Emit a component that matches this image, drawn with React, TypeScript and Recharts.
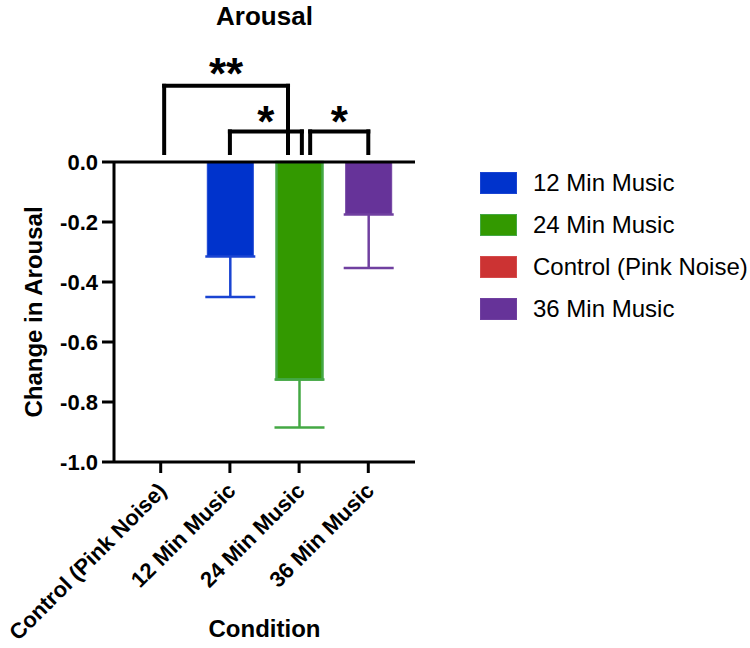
import { BarChart, Bar, Cell, XAxis, YAxis, ErrorBar, ReferenceLine, ReferenceDot, Legend } from 'recharts'

const categories = ['Control (Pink Noise)', '12 Min Music', '24 Min Music', '36 Min Music']
const means = [0, -0.315, -0.725, -0.175]
const errors = [0, 0.135, 0.16, 0.178]
const colors = ['#cc3333', '#0033cc', '#339900', '#663399']
const edges = ['#d44a4a', '#1a44d2', '#44a844', '#7040a0']
const legendOrder = [1, 2, 0, 3]
const yTicks = [0, -0.2, -0.4, -0.6, -0.8, -1.0]

// significance brackets, in category-index / value units
const bracketLeft = [0.05, 1.0, 2.16]
const bracketRight = [1.84, 2.04, 3.0]
const bracketTop = [0.254, 0.102, 0.102]
const bracketFoot = 0.03
const starLabels = ['**', '*', '*']
const starY = [0.325, 0.164, 0.164]

const FONT = '"Liberation Sans", Arial, sans-serif'

const data = categories.map((name, i) => ({ pos: i, name, mean: means[i], err: errors[i] }))

function XTick({ x = 0, y = 0, payload }: any) {
  const ax = x + 7
  const ay = y + 17
  return (
    <text x={ax} y={ay} textAnchor="end" transform={`rotate(-45 ${ax} ${ay})`} fontSize={22} fontWeight={700} fill="#000" fontFamily={FONT}>
      {categories[payload.value]}
    </text>
  )
}

function Star({ cx = 0, cy = 0, text }: any) {
  return (
    <text x={cx} y={cy} dy="0.55em" textAnchor="middle" fontSize={44} fontWeight={700} fill="#000" fontFamily={FONT}>{text}</text>
  )
}

function LegendBox() {
  return (
    <div style={{ fontFamily: FONT }}>
      {legendOrder.map((i) => (
        <div key={i} style={{ display: 'flex', alignItems: 'center', height: 42 }}>
          <span style={{ display: 'inline-block', width: 35, height: 20, background: colors[i], border: `1px solid ${edges[i]}`, marginRight: 16 }} />
          <span style={{ fontSize: 24, color: '#000', whiteSpace: 'nowrap' }}>{categories[i]}</span>
        </div>
      ))}
    </div>
  )
}

export default function App() {
  return (
    <div style={{ position: 'absolute', left: 0, top: 0 }}>
      <BarChart width={750} height={648} data={data} margin={{ top: 162, right: 335, bottom: 0, left: 14 }} style={{ fontFamily: FONT }}>
        <text x={264.5} y={25} textAnchor="middle" fontSize={26} fontWeight={700} fill="#000" fontFamily={FONT}>Arousal</text>
        <text transform="translate(42 312) rotate(-90)" textAnchor="middle" fontSize={24} fontWeight={700} fill="#000" fontFamily={FONT}>Change in Arousal</text>
        <text x={264.5} y={637} textAnchor="middle" fontSize={24} fontWeight={700} fill="#000" fontFamily={FONT}>Condition</text>
        <XAxis
          type="number"
          dataKey="pos"
          domain={[-0.675, 3.675]}
          ticks={[0, 1, 2, 3]}
          height={186}
          tick={<XTick />}
          tickSize={11}
          tickMargin={2}
          axisLine={{ stroke: '#000', strokeWidth: 3 }}
          tickLine={{ stroke: '#000', strokeWidth: 3 }}
          interval={0}
        />
        <YAxis
          domain={[-1, 0]}
          ticks={yTicks}
          width={100}
          tickFormatter={(v: number) => v.toFixed(1)}
          tick={{ fontSize: 22, fontWeight: 700, fill: '#000', fontFamily: FONT }}
          tickSize={12}
          tickMargin={4}
          axisLine={{ stroke: '#000', strokeWidth: 3 }}
          tickLine={{ stroke: '#000', strokeWidth: 3 }}
          interval={0}
        />
        <Bar dataKey="mean" barSize={46} isAnimationActive={false}>
          {data.map((d, i) => (
            <Cell key={d.name} fill={colors[i]} stroke={edges[i]} strokeWidth={i === 2 ? 2.5 : 1} />
          ))}
          {categories.map((c, i) =>
            errors[i] > 0 ? (
              <ErrorBar
                key={c}
                dataKey={(d: any) => (d.pos === i ? [d.err, 0] : null)}
                direction="y"
                width={25}
                stroke={edges[i]}
                strokeWidth={2.5}
                isAnimationActive={false}
              />
            ) : null
          )}
        </Bar>
        <ReferenceLine y={0} stroke="#000" strokeWidth={3} />
        {bracketLeft.map((l, k) => [
          <ReferenceLine key={`l${k}`} ifOverflow="visible" stroke="#000" strokeWidth={4} strokeLinecap="square"
            segment={[{ x: l, y: bracketFoot }, { x: l, y: bracketTop[k] }]} />,
          <ReferenceLine key={`t${k}`} ifOverflow="visible" stroke="#000" strokeWidth={4} strokeLinecap="square"
            segment={[{ x: l, y: bracketTop[k] }, { x: bracketRight[k], y: bracketTop[k] }]} />,
          <ReferenceLine key={`r${k}`} ifOverflow="visible" stroke="#000" strokeWidth={4} strokeLinecap="square"
            segment={[{ x: bracketRight[k], y: bracketTop[k] }, { x: bracketRight[k], y: bracketFoot }]} />,
          <ReferenceDot key={`s${k}`} ifOverflow="visible" x={(l + bracketRight[k]) / 2} y={starY[k]} r={0}
            shape={<Star text={starLabels[k]} />} />,
        ])}
        <Legend layout="vertical" align="center" verticalAlign="middle" content={<LegendBox />}
          wrapperStyle={{ left: 480, top: 161.5, width: 'auto', height: 'auto' }} />
      </BarChart>
    </div>
  )
}
